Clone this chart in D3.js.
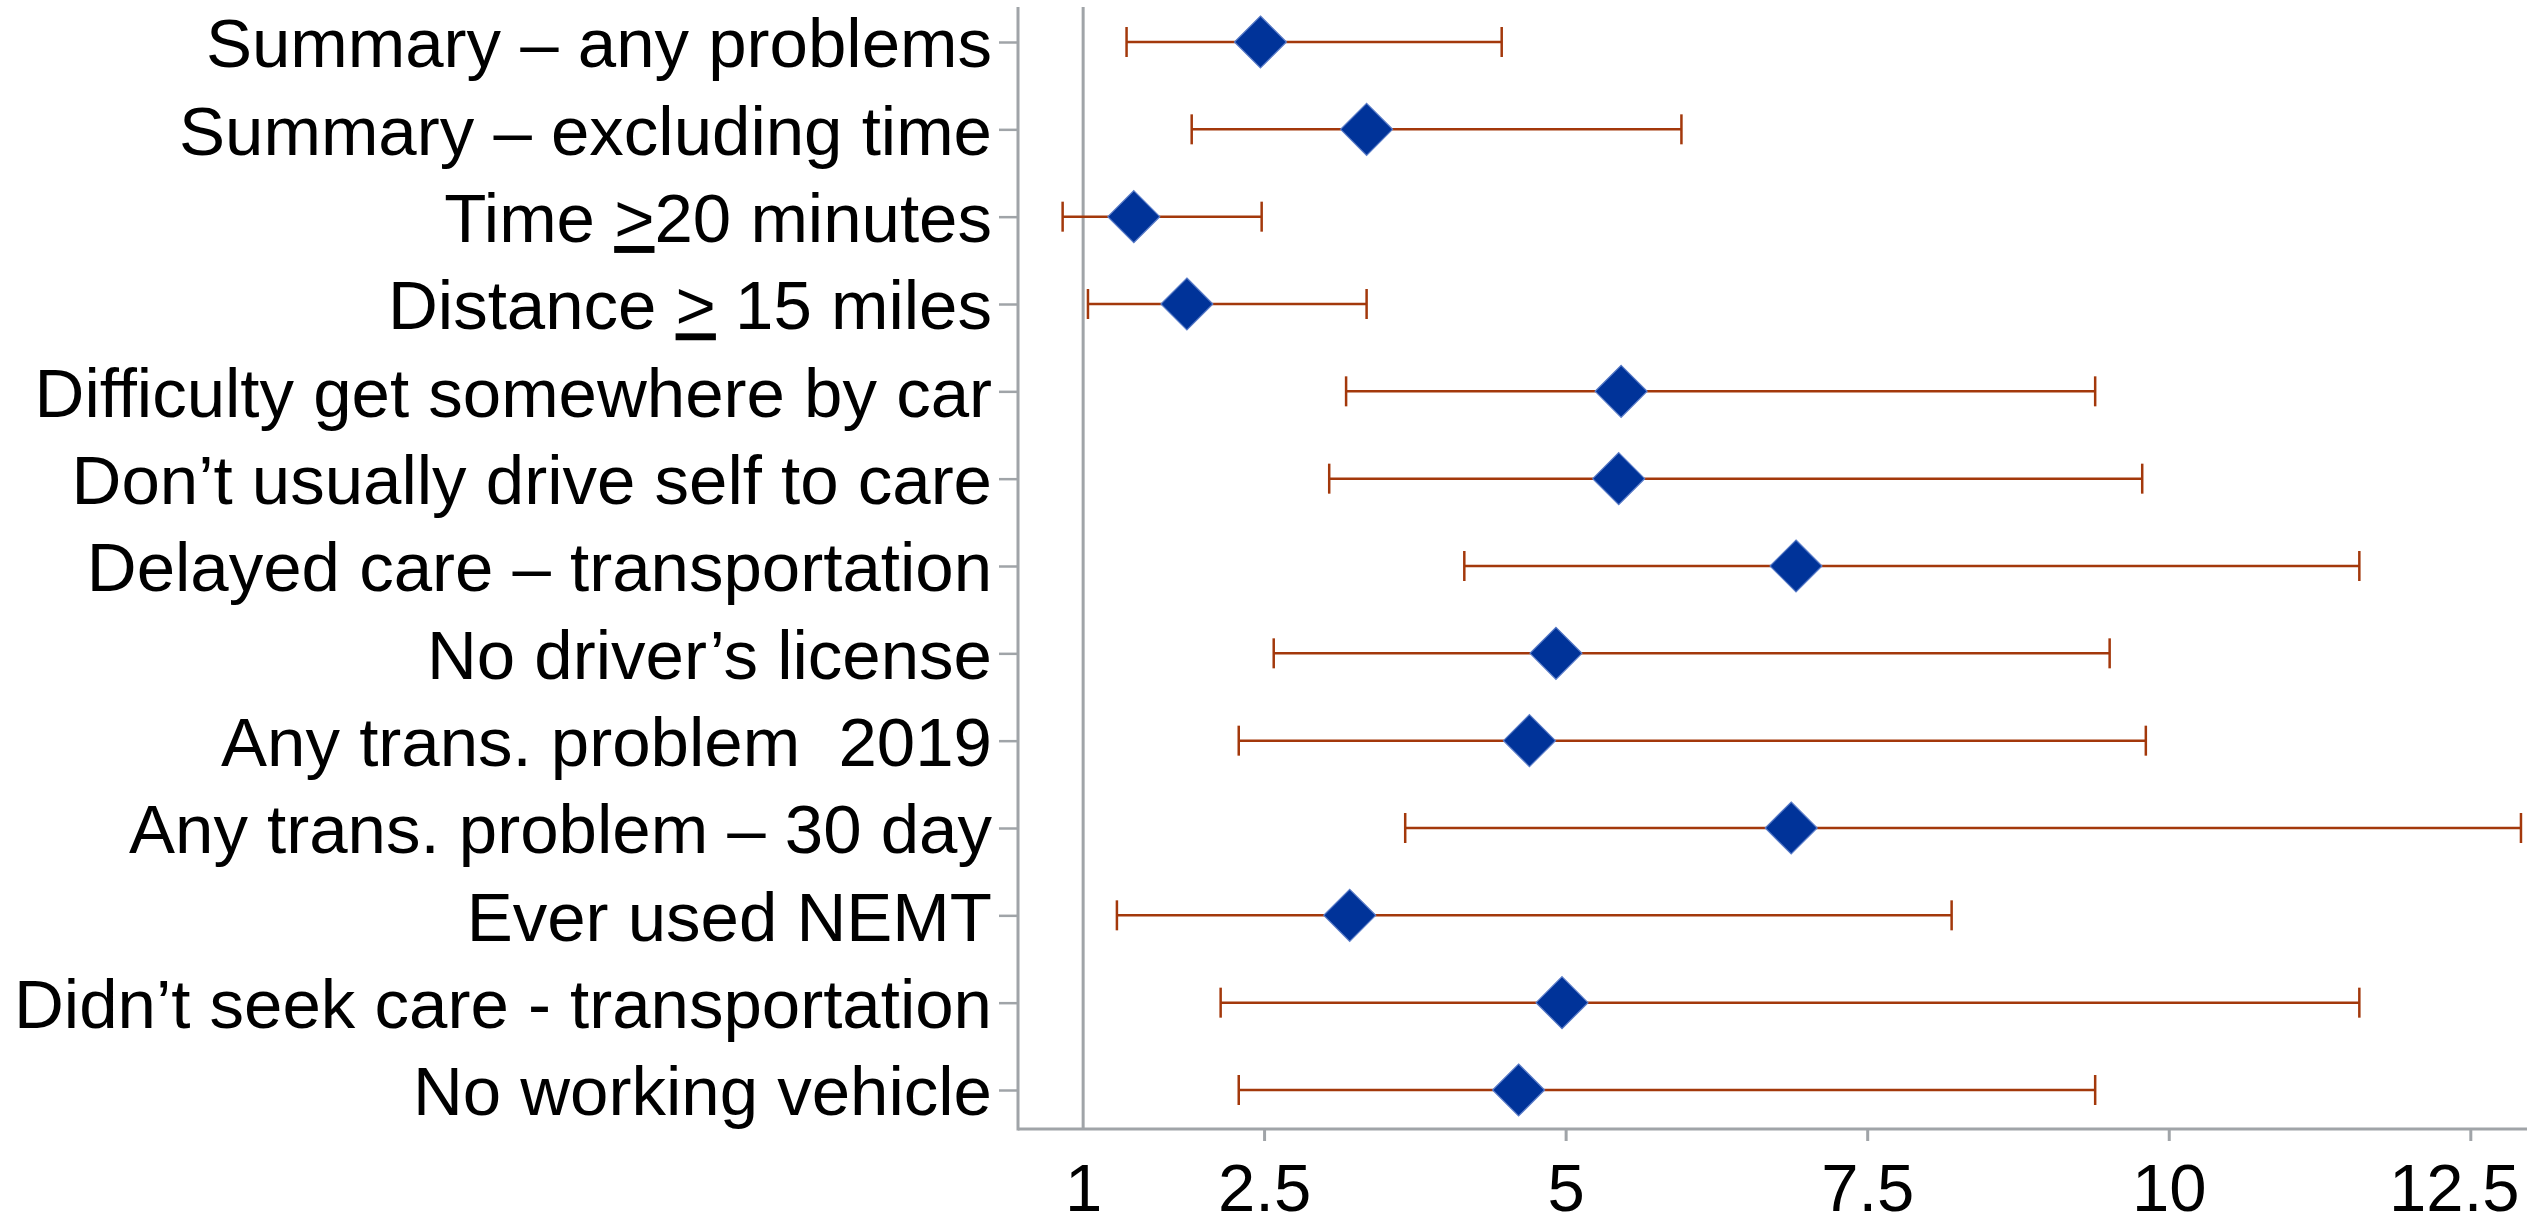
<!DOCTYPE html>
<html>
<head>
<meta charset="utf-8">
<script src="https://cdn.jsdelivr.net/npm/d3@7"></script>
<style>
  body { margin: 0; background: #fff; }
  svg { display: block; font-family: "Liberation Sans", Arial, sans-serif; }
</style>
</head>
<body>
<script>
// dimensions
var width = 2527;
var height = 1229;
var margin = {top: 7, right: 0, bottom: 96, left: 1018};

// data, top row first
var categories = [
  "Summary – any problems",
  "Summary – excluding time",
  "Time >20 minutes",
  "Distance > 15 miles",
  "Difficulty get somewhere by car",
  "Don’t usually drive self to care",
  "Delayed care – transportation",
  "No driver’s license",
  "Any trans. problem  2019",
  "Any trans. problem – 30 day",
  "Ever used NEMT",
  "Didn’t seek care - transportation",
  "No working vehicle"
];
var estimates = [2.47, 3.35, 1.42, 1.86, 5.46, 5.44, 6.91, 4.92, 4.70, 6.87, 3.21, 4.97, 4.61];
var lowerCI   = [1.36, 1.90, 0.83, 1.04, 3.18, 3.04, 4.16, 2.58, 2.29, 3.67, 1.28, 2.14, 2.29];
var upperCI   = [4.47, 5.96, 2.48, 3.35, 9.39, 9.78, 11.58, 9.51, 9.81, 12.92, 8.20, 11.58, 9.39];
var tickValues = [1, 2.5, 5, 7.5, 10, 12.5];
var refValue = 1;

var rows = categories.map(function(c, i) {
  return {name: c, est: estimates[i], lo: lowerCI[i], hi: upperCI[i]};
});

var axisColor = "#a0a4a8";
var barColor = "#a3380b";
var dotColor = "#003399";

var svg = d3.select("body").append("svg")
    .attr("width", width)
    .attr("height", height);

var x = d3.scaleLinear()
    .domain([0.46, 12.97])
    .range([margin.left, width - margin.right]);

var y = d3.scalePoint()
    .domain(categories)
    .range([42, 1090]);

var plotBottom = height - margin.bottom - 4;

// reference line at 1
svg.append("line")
    .attr("x1", x(refValue)).attr("x2", x(refValue))
    .attr("y1", margin.top).attr("y2", plotBottom)
    .attr("stroke", axisColor)
    .attr("stroke-width", 3);

// y axis
var yAxis = svg.append("g")
    .attr("transform", "translate(" + margin.left + ",0)")
    .call(d3.axisLeft(y).tickSize(19).tickPadding(7));
yAxis.select(".domain").remove();
yAxis.selectAll(".tick line").attr("stroke", axisColor).attr("stroke-width", 2.5);
yAxis.selectAll(".tick text")
    .attr("fill", "#000")
    .attr("font-size", 69)
    .attr("font-family", "'Liberation Sans', Arial, sans-serif")
    .attr("dy", "0.36em")
    .style("white-space", "pre")
    .each(function(d) {
      // underline the ">" like the original labels
      var t = d3.select(this);
      if (d.indexOf(">") < 0) return;
      var parts = d.split(">");
      t.text(null);
      t.append("tspan").text(parts[0]);
      t.append("tspan").text(">").style("text-decoration", "underline");
      t.append("tspan").text(parts[1]);
    });

svg.append("line")
    .attr("x1", margin.left).attr("x2", margin.left)
    .attr("y1", margin.top).attr("y2", plotBottom + 1.5)
    .attr("stroke", axisColor)
    .attr("stroke-width", 3);

// x axis
var xAxis = svg.append("g")
    .attr("transform", "translate(0," + plotBottom + ")")
    .call(d3.axisBottom(x).tickValues(tickValues).tickSize(12).tickFormat(function(d) { return d; }));
xAxis.select(".domain").remove();
xAxis.selectAll(".tick line")
    .attr("stroke", axisColor)
    .attr("stroke-width", 3)
    .attr("display", function(d) { return d === refValue ? "none" : null; });
xAxis.selectAll(".tick text")
    .attr("fill", "#000")
    .attr("font-size", 67)
    .attr("font-family", "'Liberation Sans', Arial, sans-serif")
    .attr("y", 82)
    .attr("dy", 0)
    .each(function(d) {
      // keep the last label inside the picture
      var box = this.getBBox();
      var right = x(d) + box.width / 2;
      if (right > width - 8) d3.select(this).attr("x", (width - 8) - right);
    });

svg.append("line")
    .attr("x1", margin.left).attr("x2", width)
    .attr("y1", plotBottom).attr("y2", plotBottom)
    .attr("stroke", axisColor)
    .attr("stroke-width", 3);

// error bars
var bars = svg.append("g").selectAll("g")
    .data(rows)
    .enter().append("g")
    .attr("stroke", barColor);

bars.append("line")
    .attr("x1", function(d) { return x(d.lo); })
    .attr("x2", function(d) { return x(d.hi); })
    .attr("y1", function(d) { return y(d.name); })
    .attr("y2", function(d) { return y(d.name); })
    .attr("stroke-width", 2.5);

bars.selectAll(".cap")
    .data(function(d) { return [{v: d.lo, name: d.name}, {v: d.hi, name: d.name}]; })
    .enter().append("line")
    .attr("class", "cap")
    .attr("x1", function(d) { return x(d.v); })
    .attr("x2", function(d) { return x(d.v); })
    .attr("y1", function(d) { return y(d.name) - 15; })
    .attr("y2", function(d) { return y(d.name) + 15; })
    .attr("stroke-width", 2.5);

// point estimates
svg.append("g").selectAll("path")
    .data(rows)
    .enter().append("path")
    .attr("d", "M0,-26L26,0L0,26L-26,0Z")
    .attr("transform", function(d) { return "translate(" + x(d.est) + "," + y(d.name) + ")"; })
    .attr("fill", dotColor)
    .attr("stroke", "#5a7cc8")
    .attr("stroke-width", 1.2);
</script>
</body>
</html>
